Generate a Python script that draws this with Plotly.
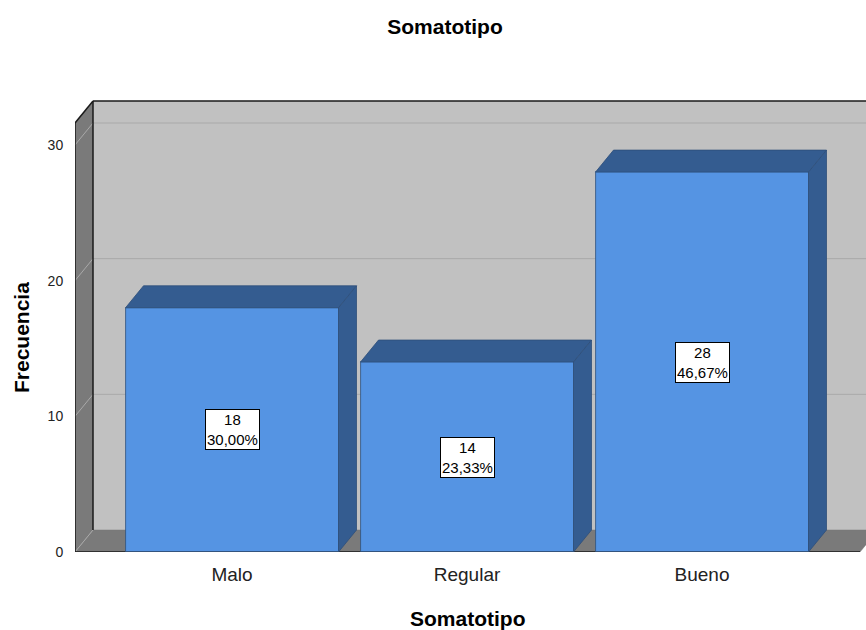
import plotly.graph_objects as go

# Frequency table for "Somatotipo"
categories = ["Malo", "Regular", "Bueno"]
counts = [18, 14, 28]
y_ticks = [0, 10, 20, 30]

total = sum(counts)
percents = [c / total * 100 for c in counts]

# Layout geometry (pixels)
W, H = 866, 630
M_L, M_R, M_T, M_B = 75, 0, 97, 78
PX_PER_CAT = 235.0          # horizontal distance between categories
PX_PER_UNIT = 13.567        # pixels per frequency unit
FIRST_CAT_PX = 232.0        # pixel x of the first category centre
DEPTH_DX_PX, DEPTH_DY_PX = 18.0, 22.0
BAR_WIDTH = 213.0 / PX_PER_CAT
BOX_TOP_PX = 101.0          # top edge of the chart box

plot_w = W - M_L - M_R
plot_h = H - M_T - M_B
x_range = [(M_L - FIRST_CAT_PX) / PX_PER_CAT, (W - M_R - FIRST_CAT_PX) / PX_PER_CAT]
y_range = [0, plot_h / PX_PER_UNIT]
dx = DEPTH_DX_PX / PX_PER_CAT
dy = DEPTH_DY_PX / PX_PER_UNIT

BACK = "#c1c1c1"
WALL = "#7a7a7a"
GRID = "#a9a9a9"
FRONT = "#5594e3"
DARK = "#345c90"
EDGE = "#2e4f7a"
FONT = "Arial, Liberation Sans"

x_pos = list(range(len(categories)))

fig = go.Figure()

# Front faces of the bars
fig.add_trace(go.Bar(
    x=x_pos, y=counts, width=BAR_WIDTH,
    marker=dict(color=FRONT, line=dict(color=EDGE, width=0.8)),
    hoverinfo="skip", showlegend=False,
))

# Top and side faces (depth extrusion)
for xc, v in zip(x_pos, counts):
    x0, x1 = xc - BAR_WIDTH / 2, xc + BAR_WIDTH / 2
    fig.add_trace(go.Scatter(
        x=[x0, x1, x1 + dx, x0 + dx, x0], y=[v, v, v + dy, v + dy, v],
        mode="lines", fill="toself", fillcolor=DARK,
        line=dict(color=EDGE, width=0.8), hoverinfo="skip", showlegend=False,
    ))
    fig.add_trace(go.Scatter(
        x=[x1, x1 + dx, x1 + dx, x1, x1], y=[0, dy, v + dy, v, 0],
        mode="lines", fill="toself", fillcolor=DARK,
        line=dict(color=EDGE, width=0.8), hoverinfo="skip", showlegend=False,
    ))

shapes = []
xl = x_range[0]
xr_far = x_range[1] + 0.2
y_top_back = ((H - M_B) - BOX_TOP_PX) / PX_PER_UNIT
y_top_front = y_top_back - dy

# Back wall
shapes.append(dict(type="rect", xref="x", yref="y", layer="below",
                   x0=xl + dx, x1=xr_far, y0=dy, y1=y_top_back,
                   fillcolor=BACK, line=dict(width=0)))
# Back wall gridlines
for t in y_ticks[1:]:
    shapes.append(dict(type="line", xref="x", yref="y", layer="below",
                       x0=xl + dx, x1=xr_far, y0=t + dy, y1=t + dy,
                       line=dict(color=GRID, width=1)))
# Floor
floor_right = x_range[1] - 6.0 / PX_PER_CAT
shapes.append(dict(type="path", xref="x", yref="y", layer="below",
                   path=f"M {xl},0 L {xl + dx},{dy} L {floor_right + dx},{dy} L {floor_right},0 Z",
                   fillcolor=WALL, line=dict(color=WALL, width=0.5)))
# Left wall with its gridlines
shapes.append(dict(type="path", xref="x", yref="y", layer="below",
                   path=f"M {xl},0 L {xl},{y_top_front} L {xl + dx},{y_top_back} L {xl + dx},{dy} Z",
                   fillcolor=WALL, line=dict(width=0)))
for t in y_ticks:
    shapes.append(dict(type="line", xref="x", yref="y", layer="below",
                       x0=xl, x1=xl + dx, y0=t, y1=t + dy,
                       line=dict(color=GRID, width=1)))
# Frame edges
edge = dict(color="#1a1a1a", width=1.5)
shapes += [
    dict(type="line", xref="x", yref="y", layer="below", x0=xl, x1=xl, y0=0, y1=y_top_front, line=edge),
    dict(type="line", xref="x", yref="y", layer="below", x0=xl, x1=xl + dx, y0=y_top_front, y1=y_top_back, line=edge),
    dict(type="line", xref="x", yref="y", layer="below", x0=xl + dx, x1=xr_far, y0=y_top_back, y1=y_top_back, line=edge),
    dict(type="line", xref="x", yref="y", layer="below", x0=xl + dx, x1=xl + dx, y0=dy, y1=y_top_back, line=edge),
    dict(type="line", xref="x", yref="y", layer="below", x0=xl, x1=floor_right, y0=0, y1=0, line=edge),
]

# Value labels inside the bars
annotations = []
for xc, v, p in zip(x_pos, counts, percents):
    annotations.append(dict(
        x=xc, y=v / 2, xref="x", yref="y", showarrow=False,
        text=f"{v}<br>{p:.2f}%".replace(".", ","),
        font=dict(family=FONT, size=15, color="black"),
        bgcolor="white", bordercolor="black", borderwidth=1, borderpad=1,
        align="center",
    ))

# Axis titles
annotations.append(dict(
    text="<b>Somatotipo</b>", xref="paper", yref="paper",
    x=(468 - M_L) / plot_w, y=-(618 - (H - M_B)) / plot_h,
    xanchor="center", yanchor="middle",
    showarrow=False, font=dict(family=FONT, size=21, color="black"),
))
annotations.append(dict(
    text="<b>Frecuencia</b>", xref="paper", yref="paper", textangle=-90,
    x=(21 - M_L) / plot_w, y=((H - M_B) - 338) / plot_h,
    xanchor="center", yanchor="middle",
    showarrow=False, font=dict(family=FONT, size=21, color="black"),
))

fig.update_layout(
    width=W, height=H,
    margin=dict(l=M_L, r=M_R, t=M_T, b=M_B, pad=0),
    paper_bgcolor="white", plot_bgcolor="white",
    title=dict(text="<b>Somatotipo</b>", x=445 / W, xanchor="center",
               y=1 - 27 / H, yanchor="middle", yref="container",
               font=dict(family=FONT, size=21, color="black")),
    xaxis=dict(range=x_range, tickvals=x_pos, ticktext=categories,
               showgrid=False, zeroline=False, showline=False,
               ticks="outside", ticklen=5, tickcolor="rgba(0,0,0,0)",
               tickfont=dict(family=FONT, size=19, color="#222")),
    yaxis=dict(range=y_range, tickvals=y_ticks, showgrid=False, zeroline=False,
               showline=False, ticks="outside", ticklen=8, tickcolor="rgba(0,0,0,0)",
               tickfont=dict(family=FONT, size=14, color="#222")),
    shapes=shapes,
    annotations=annotations,
    bargap=0,
)

fig.write_html("out.html")
